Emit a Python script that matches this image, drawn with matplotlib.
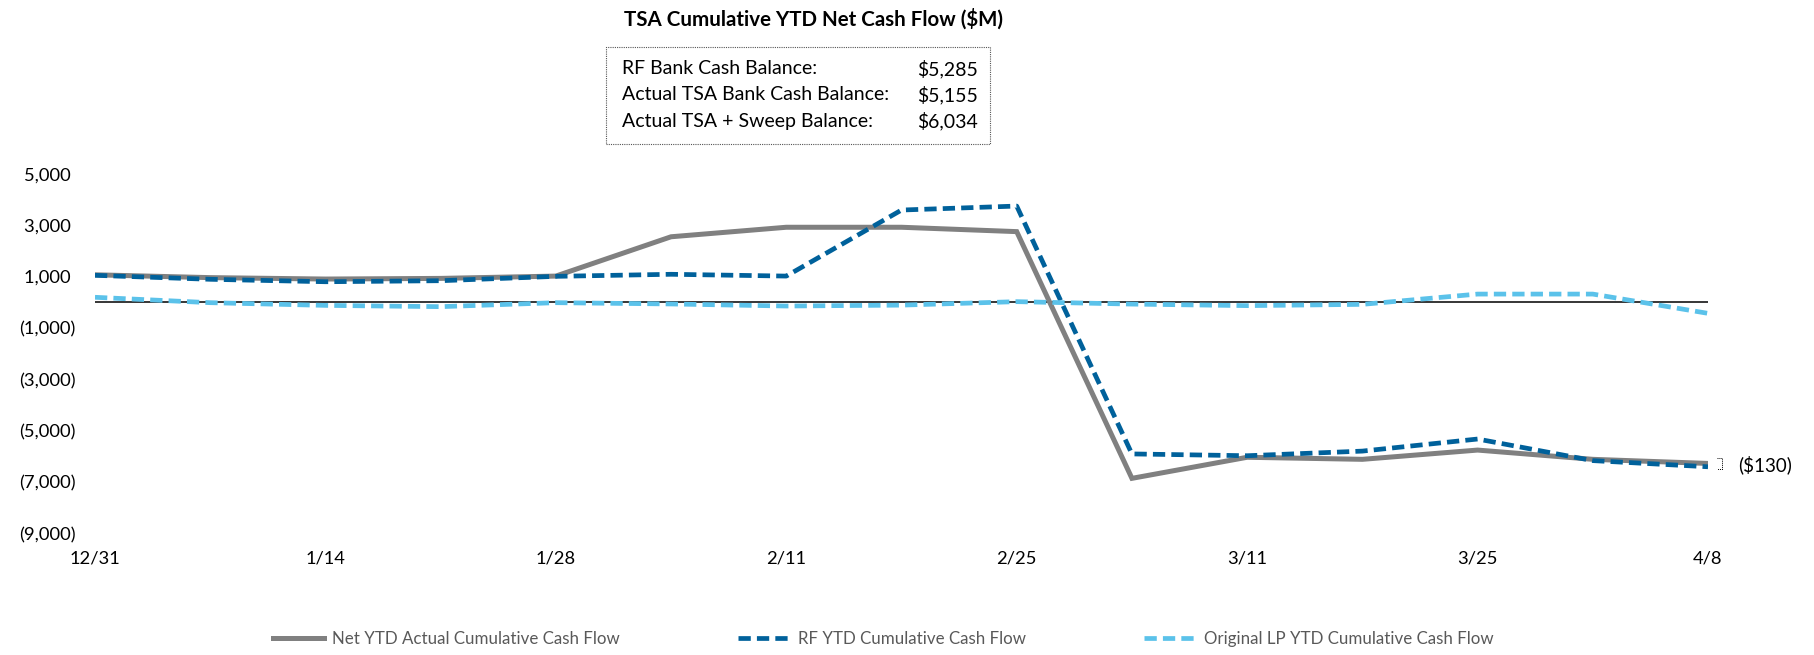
import matplotlib
matplotlib.use("Agg")
import matplotlib.pyplot as plt
from matplotlib.patches import Rectangle
from matplotlib.ticker import FuncFormatter

plt.rcParams['font.family'] = ['Lato', 'DejaVu Sans']

# weekly data points, 12/31 .. 4/8
weeks = ['12/31', '1/7', '1/14', '1/21', '1/28', '2/4', '2/11', '2/18',
         '2/25', '3/4', '3/11', '3/18', '3/25', '4/1', '4/8']
net_actual = [1070, 960, 905, 930, 1020, 2550, 2920, 2920,
              2750, -6850, -6030, -6110, -5750, -6110, -6270]
rf_ytd = [1050, 895, 800, 840, 1010, 1090, 1020, 3590,
          3745, -5900, -5970, -5790, -5320, -6160, -6400]
orig_lp = [195, -15, -120, -170, -15, -65, -145, -110,
           25, -70, -130, -80, 320, 320, -430]

tick_labels = weeks[::2]
yticks = [5000, 3000, 1000, -1000, -3000, -5000, -7000, -9000]

box_labels = ['RF Bank Cash Balance:', 'Actual TSA Bank Cash Balance:', 'Actual TSA + Sweep Balance:']
box_values = ['$5,285', '$5,155', '$6,034']

gray = '#808080'
dark_blue = '#00619B'
light_blue = '#5BC2EA'

W, H = 1815, 655
fig = plt.figure(figsize=(W / 100, H / 100), dpi=100)
ax = fig.add_axes([95 / W, (H - 533.6) / H, 1613 / W, 359.8 / H])

x = list(range(len(weeks)))
ax.axhline(0, color='black', lw=1.1, zorder=1)
l1, = ax.plot(x, net_actual, color=gray, lw=3.6, solid_joinstyle='miter',
              label='Net YTD Actual Cumulative Cash Flow', zorder=2)
l2, = ax.plot(x, rf_ytd, color=dark_blue, lw=3.4, dashes=(2.6, 1.3),
              label='RF YTD Cumulative Cash Flow', zorder=3)
l3, = ax.plot(x, orig_lp, color=light_blue, lw=3.4, dashes=(2.6, 1.3),
              label='Original LP YTD Cumulative Cash Flow', zorder=3)

ax.set_xlim(0, len(weeks) - 1)
ax.set_ylim(-9000, 5000)
ax.set_xticks(x[::2])
ax.set_xticklabels(tick_labels)
ax.set_yticks(yticks)
ax.yaxis.set_major_formatter(FuncFormatter(
    lambda v, p: f'({abs(v):,.0f})' if v < 0 else f'{v:,.0f} '))
ax.tick_params(axis='both', length=0, labelsize=13.2, colors='black')
ax.tick_params(axis='y', pad=14)
ax.tick_params(axis='x', pad=12)
for s in ax.spines.values():
    s.set_visible(False)

# difference bracket at last point
xe = x[-1]
ax.plot([xe + 0.08, xe + 0.12, xe + 0.12, xe + 0.08],
        [net_actual[-1] + 200, net_actual[-1] + 200, rf_ytd[-1] - 100, rf_ytd[-1] - 100],
        color='black', lw=0.7, ls=(0, (1, 1)), clip_on=False)
ax.text(xe + 0.26, (net_actual[-1] + rf_ytd[-1]) / 2,
        f'(${abs(net_actual[-1] - rf_ytd[-1]):,})', va='center', ha='left', fontsize=13.5)

fig.text(814 / W, 1 - 18.5 / H, 'TSA Cumulative YTD Net Cash Flow ($M)',
         ha='center', va='center', fontsize=14.8, weight='bold')

fig.patches.append(Rectangle((606 / W, 1 - 144 / H), (990 - 606) / W, (144 - 46.5) / H,
                             transform=fig.transFigure, fill=False,
                             ec='#555555', lw=0.8, ls=(0, (1, 1))))
for i, (lab, val) in enumerate(zip(box_labels, box_values)):
    yy = 1 - (69 + i * 26) / H
    fig.text(622 / W, yy, lab, ha='left', va='center', fontsize=14)
    fig.text(917 / W, yy, val, ha='left', va='center', fontsize=14)

leg = fig.legend(handles=[l1, l2, l3], loc='center', ncol=3,
                 bbox_to_anchor=(883 / W, 1 - 639 / H), frameon=False,
                 fontsize=12.2, handlelength=3.0, columnspacing=7.0, handletextpad=0.5)
for t in leg.get_texts():
    t.set_color('#595959')

fig.savefig('out.png', dpi=100)
